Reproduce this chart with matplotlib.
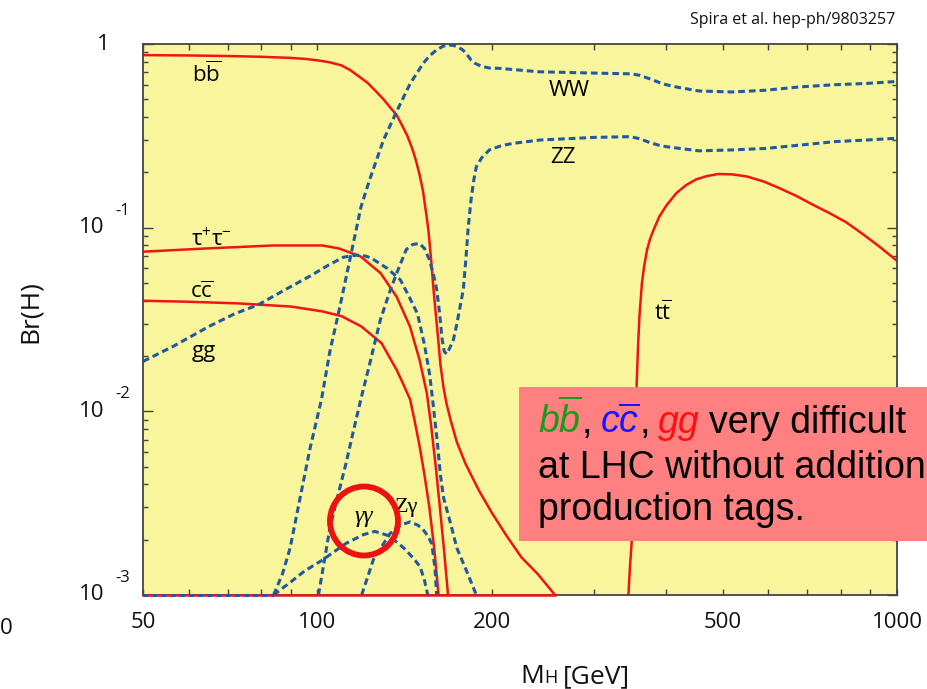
import matplotlib
matplotlib.use("Agg")
import matplotlib.pyplot as plt
from matplotlib.patches import Rectangle, Ellipse
from matplotlib.ticker import LogLocator, NullFormatter
from matplotlib.transforms import blended_transform_factory

plt.rcParams["font.family"] = ["Open Sans", "DejaVu Sans"]
plt.rcParams["mathtext.fontset"] = "custom"
plt.rcParams["mathtext.rm"] = "Open Sans"
plt.rcParams["mathtext.it"] = "Liberation Sans:italic"

bb_mass = [50, 60, 70, 80, 90, 95, 100, 105, 110, 114, 118, 122, 126, 130, 134, 137, 140, 143, 146,
           148, 150, 152, 154, 155.5, 157, 158.5, 160, 161.5, 163, 165, 167, 170, 174, 180, 190,
           200, 212, 225, 240, 257]
bb_br = [0.87, 0.866, 0.86, 0.852, 0.84, 0.83, 0.815, 0.795, 0.765, 0.72, 0.665, 0.615, 0.555, 0.50,
         0.445, 0.41, 0.36, 0.315, 0.265, 0.23, 0.195, 0.16, 0.12, 0.095, 0.068, 0.047, 0.034,
         0.025, 0.018, 0.0135, 0.011, 0.0088, 0.0068, 0.0052, 0.0037, 0.0028, 0.0021, 0.0016,
         0.0013, 0.001]

tautau_mass = [50, 64, 84, 102, 109, 118.7, 128.6, 137, 144.4, 150, 154.4, 157, 160, 163, 165.5,
               168]
tautau_br = [0.074, 0.077, 0.080, 0.080, 0.077, 0.0697, 0.0564, 0.042, 0.029, 0.0191, 0.0126,
             0.0085, 0.0050, 0.0028, 0.0017, 0.001]

cc_mass = [50, 60, 73, 90, 102, 110, 119, 129, 137, 141, 144.5, 147, 150, 153, 156, 159, 161.8]
cc_br = [0.040, 0.0395, 0.0387, 0.0372, 0.035, 0.033, 0.029, 0.0235, 0.0168, 0.0138, 0.0116,
         0.009, 0.0065, 0.0045, 0.003, 0.0018, 0.001]

tt_mass = [344, 346, 348.7, 350.5, 352, 353.5, 355.5, 357.5, 359.4, 363, 366, 370.5, 375, 380, 389,
           400, 416, 432, 450, 470, 492, 520, 551, 590, 627, 670, 717, 765, 817, 870, 932, 1000]
tt_br = [0.001, 0.0014, 0.002, 0.003, 0.0042, 0.0075, 0.0142, 0.023, 0.033, 0.05, 0.061, 0.076,
         0.087, 0.097, 0.115, 0.132, 0.154, 0.17, 0.183, 0.191, 0.196, 0.195, 0.19, 0.178, 0.164,
         0.149, 0.133, 0.12, 0.107, 0.093, 0.079, 0.066]

gg_mass = [50, 56.4, 65, 72, 79, 88, 96.6, 104, 110.8, 115, 118.8, 122, 125, 132, 139, 144, 148.8,
           153, 156.1, 158, 161, 163, 165, 170, 174, 180, 188]
gg_br = [0.0187, 0.0226, 0.029, 0.034, 0.038, 0.046, 0.054, 0.062, 0.069, 0.0705, 0.071, 0.0695,
         0.067, 0.060, 0.052, 0.042, 0.034, 0.023, 0.016, 0.0116, 0.0068, 0.0045, 0.0034, 0.0024,
         0.0018, 0.0014, 0.001]

gamgam_mass = [84, 90, 95, 102, 112, 120, 125.6, 133, 141, 146, 150.3, 153, 155]
gamgam_br = [0.001, 0.00118, 0.00135, 0.00155, 0.00191, 0.00213, 0.00222, 0.0021, 0.0018, 0.0016,
             0.00143, 0.0012, 0.001]

zgam_mass = [119.2, 124.9, 133.4, 139, 144.5, 149, 152, 155, 157.5, 159.5, 160.6]
zgam_br = [0.001, 0.00156, 0.00216, 0.0024, 0.0025, 0.0024, 0.00228, 0.0021, 0.0019, 0.0014, 0.001]

ww_mass = [84, 87, 89.7, 93.2, 97, 101.6, 105, 109.5, 115, 118.9, 123, 130, 137, 144.6, 152, 156,
           160.6, 165, 168.6, 172, 175, 178, 181, 184, 187, 192, 198, 206, 241, 270, 308, 330, 348,
           360, 375, 390, 400, 420, 455, 519, 593, 684, 780, 887, 1000]
ww_br = [0.001, 0.0013, 0.0018, 0.0033, 0.0062, 0.0116, 0.021, 0.038, 0.079, 0.13, 0.182, 0.30,
         0.43, 0.61, 0.78, 0.86, 0.93, 0.975, 0.987, 0.98, 0.96, 0.93, 0.88, 0.82, 0.785, 0.755,
         0.74, 0.737, 0.706, 0.70, 0.693, 0.69, 0.688, 0.675, 0.645, 0.615, 0.60, 0.58, 0.555,
         0.548, 0.56, 0.585, 0.60, 0.61, 0.625]

zz_mass = [100.4, 103, 105, 108, 112, 115, 118.8, 123, 128.4, 133, 137, 142.3, 146, 150, 153, 156,
           158.5, 160.6, 162.5, 164, 165.5, 167, 169, 171.6, 174, 176.5, 178.5, 180.5, 182, 184,
           186, 188, 192, 198, 208, 218, 242, 300, 346, 360, 375, 390, 400, 455, 519, 593, 684, 780,
           887, 1000]
zz_br = [0.001, 0.0016, 0.0023, 0.0033, 0.0052, 0.0075, 0.0116, 0.018, 0.0315, 0.044, 0.0565,
         0.076, 0.081, 0.082, 0.077, 0.067, 0.056, 0.046, 0.034, 0.025, 0.0212, 0.0205, 0.022,
         0.0245, 0.03, 0.038, 0.046, 0.07, 0.10, 0.14, 0.18, 0.215, 0.24, 0.265, 0.28, 0.288, 0.30,
         0.31, 0.313, 0.305, 0.29, 0.28, 0.276, 0.262, 0.265, 0.27, 0.282, 0.294, 0.30, 0.307]

# curves pinned to the lower edge of the frame
floor_red_mass = [50, 257]
floor_blue_mass = [50, 84]

x_major = [50, 100, 200, 500, 1000]
x_major_labels = ["50", "100", "200", "500", "1000"]
x_minor = [60, 70, 80, 90, 300, 400, 600, 700, 800, 900]
y_major = [1e-3, 1e-2, 1e-1, 1]
y_exponents = ["-3", "-2", "-1", ""]

RED = "#f01414"
BLUE = "#1f5aa0"
INK = "#111111"

W, H = 927, 689
fig = plt.figure(figsize=(W / 100, H / 100), dpi=100)
fig.patch.set_facecolor("white")
renderer = fig.canvas.get_renderer()


def fx(x):
    return x / W


def fy(y):
    return 1 - y / H


def text_run(x, y, pieces, **common):
    # lay out differently styled pieces one after another on a shared baseline
    for text, gap, extra in pieces:
        t = fig.text(fx(x), fy(y), text, va="baseline", **dict(common, **extra))
        x = t.get_window_extent(renderer).x1 + gap


ax = fig.add_axes([fx(143), fy(595), (897 - 143) / W, (595 - 44) / H])
ax.set_facecolor("#f8f59c")
ax.set_xscale("log")
ax.set_yscale("log")
ax.set_xlim(50, 1000)
ax.set_ylim(1e-3, 1)

for mass, br in [(bb_mass, bb_br), (tautau_mass, tautau_br), (cc_mass, cc_br), (tt_mass, tt_br)]:
    ax.plot(mass, br, color=RED, lw=1.8)
for mass, br in [(gg_mass, gg_br), (gamgam_mass, gamgam_br), (zgam_mass, zgam_br),
                 (ww_mass, ww_br), (zz_mass, zz_br)]:
    ax.plot(mass, br, color=BLUE, lw=2.2, dashes=(2.2, 1.3))
ax.plot(floor_red_mass, [y_major[0]] * 2, color=RED, lw=1.8, clip_on=False, zorder=3)
ax.plot(floor_blue_mass, [y_major[0]] * 2, color=BLUE, lw=2.2, dashes=(1.5, 1.5), clip_on=False,
        zorder=3)

# channel labels
ax.text(64.3, 0.687, r"$\mathrm{b}\overline{\mathrm{b}}$", fontsize=16, ha="center", va="center")
ax.text(65.6, 0.086, r"$\mathrm{\tau}^{+}\mathrm{\tau}^{-}$", fontsize=16, ha="center",
        va="center")
ax.text(63.2, 0.0447, r"$\mathrm{c}\overline{\mathrm{c}}$", fontsize=16, ha="center", va="center")
ax.text(63.7, 0.0212, "gg", fontsize=16, ha="center", va="center")
ax.text(272, 0.555, "WW", fontsize=16, ha="center", va="center")
ax.text(265, 0.242, "ZZ", fontsize=16, ha="center", va="center")
ax.text(394, 0.0343, r"$\mathrm{t}\overline{\mathrm{t}}$", fontsize=16, ha="center", va="center")
ax.text(120.4, 0.00266, "γγ", fontsize=17, family="Liberation Serif", style="italic",
        ha="center", va="center")
ax.text(142.7, 0.003, "Zγ", fontsize=16, family="Liberation Serif", ha="center", va="center")

# axes styling
for spine in ax.spines.values():
    spine.set_color("#444444")
    spine.set_linewidth(1.3)
ax.set_xticks(x_major, labels=x_major_labels)
ax.set_xticks(x_minor, minor=True)
ax.xaxis.set_minor_formatter(NullFormatter())
ax.set_yticks(y_major, labels=[""] * len(y_major))
ax.yaxis.set_minor_locator(LogLocator(base=10, subs=range(2, 10)))
ax.yaxis.set_minor_formatter(NullFormatter())
ax.tick_params(which="both", direction="in", top=True, right=True, color="#444444", width=1)
ax.tick_params(axis="x", which="both", length=4, labelsize=16, pad=12, labelcolor=INK)
ax.tick_params(axis="y", which="major", length=7.5)
ax.tick_params(axis="y", which="minor", length=3.5)

trans = blended_transform_factory(fig.transFigure, ax.transData)
for value, exponent in zip(y_major, y_exponents):
    if exponent:
        ax.text(fx(104), value, "10", transform=trans, fontsize=16, ha="right", va="center",
                color=INK)
        ax.annotate(exponent, xy=(fx(115), value), xycoords=trans, xytext=(0, 17),
                    textcoords="offset pixels", fontsize=12, ha="left", va="center", color=INK)
    else:
        ax.text(fx(110), value, "1", transform=trans, fontsize=16, ha="right", va="center",
                color=INK)

fig.text(fx(30), fy(312), "Br(H)", rotation=90, fontsize=19, ha="center", va="center", color=INK)
text_run(520, 683, [("M", 0, {}), ("H", 6, {"fontsize": 13}), ("[GeV]", 0, {})],
         fontsize=19, color=INK)
fig.text(fx(895), fy(20), "Spira et al. hep-ph/9803257", fontsize=11.5, ha="right", va="center",
         color=INK)
fig.text(fx(6), fy(628), "0", fontsize=16, ha="center", va="center", color=INK)

# highlight ring around the diphoton label
fig.add_artist(Ellipse((fx(364), fy(521)), 68 / W, 69 / H, transform=fig.transFigure,
                       fill=False, edgecolor="#ee1111", lw=4.2, zorder=4))

# note box
fig.add_artist(Rectangle((fx(519), fy(541)), (960 - 519) / W, (541 - 387) / H,
                         transform=fig.transFigure, facecolor="#ff8080", edgecolor="none",
                         zorder=5))
note_font = dict(family="Liberation Sans", fontsize=27, color="black", zorder=6)
text_run(538, 433, [
    (r"$b\overline{b}$", 0, {"color": "#1a9a1a"}),
    (",", 8, {}),
    (r"$c\overline{c}$", 0, {"color": "#1515ff"}),
    (",", 8, {}),
    ("gg", 9, {"color": "#ff1010", "style": "italic"}),
    ("very difficult", 0, {}),
], **note_font)
fig.text(fx(538), fy(478), "at LHC without additional", va="baseline", **note_font)
fig.text(fx(538), fy(520), "production tags.", va="baseline", **note_font)

fig.savefig("out.png", dpi=100)
